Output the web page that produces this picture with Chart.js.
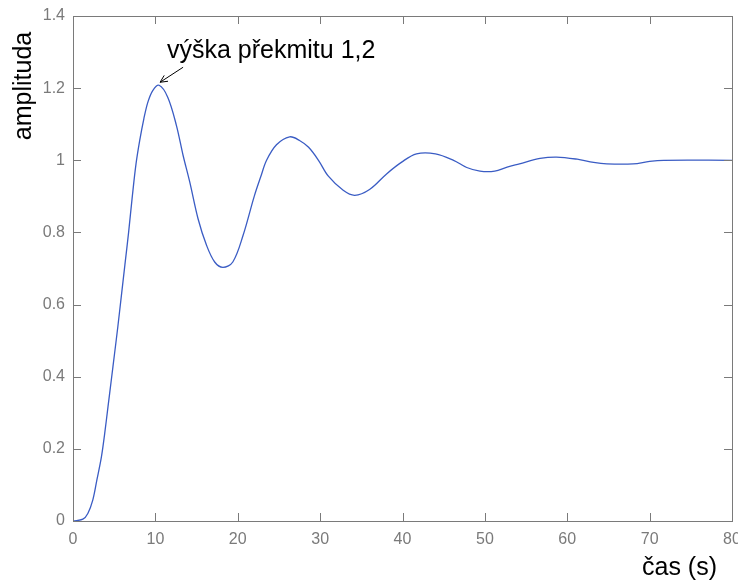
<!DOCTYPE html>
<html>
<head>
<meta charset="utf-8">
<script src="https://cdn.jsdelivr.net/npm/chart.js@4/dist/chart.umd.min.js"></script>
<style>
html,body{margin:0;padding:0;background:#fff;}
#wrap{width:738px;height:583px;position:relative;}
</style>
</head>
<body>
<div id="wrap"><canvas id="c" width="738" height="583"></canvas></div>
<script>
// time (s)
const times = [0, 1.2, 1.8, 2.4, 2.9, 3.45, 3.85, 4.25, 4.65, 5.05, 5.45, 5.85, 6.3, 6.75, 7.2, 7.65, 8.1, 8.6, 9.1, 9.7, 10.45, 11.5, 12.55, 13.36, 14.17, 15.18, 16.2, 17.2, 18.2, 19.4, 20.65, 22.0, 22.8, 23.5, 24.7, 26.3, 27.5, 28.6, 29.8, 31.0, 32.8, 34.2, 36.0, 38.1, 39.9, 41.7, 44.0, 46.2, 47.8, 49.4, 51.2, 52.7, 54.2, 56.7, 58.7, 61.2, 63.2, 64.8, 68.0, 70.0, 71.7, 80];
// amplitude
const amplitude = [0, 0.005, 0.021, 0.058, 0.114, 0.178, 0.243, 0.317, 0.391, 0.465, 0.54, 0.62, 0.71, 0.80, 0.90, 0.99, 1.055, 1.115, 1.162, 1.194, 1.208, 1.175, 1.097, 1.014, 0.94, 0.838, 0.765, 0.718, 0.703, 0.718, 0.792, 0.90, 0.955, 1.0, 1.043, 1.065, 1.055, 1.036, 1.0, 0.956, 0.917, 0.903, 0.919, 0.963, 0.995, 1.018, 1.018, 1.0, 0.980, 0.970, 0.970, 0.981, 0.990, 1.005, 1.009, 1.003, 0.994, 0.990, 0.990, 0.997, 1.0, 1.0];
const xTicks = [0, 10, 20, 30, 40, 50, 60, 70, 80];
const yTicks = [0, 0.2, 0.4, 0.6, 0.8, 1.0, 1.2, 1.4];
const xTitle = 'čas (s)';
const yTitle = 'amplituda';
const annotationText = 'výška překmitu 1,2';
const peak = {x: 10.45, y: 1.208};

const axisColor = '#7a7a7a';
const tickFont = {family: "'Liberation Sans', Arial, sans-serif", size: 16};

const boxPlugin = {
  id: 'boxPlugin',
  afterDraw(chart) {
    const {ctx, chartArea: a, scales: {x, y}} = chart;
    ctx.save();
    ctx.strokeStyle = axisColor;
    ctx.lineWidth = 1;
    ctx.strokeRect(Math.round(a.left) + 0.5, Math.round(a.top) + 0.5, Math.round(a.right - a.left), Math.round(a.bottom - a.top));
    const L = 8;
    ctx.beginPath();
    xTicks.forEach(v => {
      const px = Math.round(x.getPixelForValue(v)) + 0.5;
      ctx.moveTo(px, a.bottom); ctx.lineTo(px, a.bottom - L);
      ctx.moveTo(px, a.top); ctx.lineTo(px, a.top + L);
    });
    yTicks.forEach(v => {
      const py = Math.round(y.getPixelForValue(v)) + 0.5;
      ctx.moveTo(a.left, py); ctx.lineTo(a.left + L, py);
      ctx.moveTo(a.right, py); ctx.lineTo(a.right - L, py);
    });
    ctx.stroke();

    // axis titles
    ctx.fillStyle = '#000';
    ctx.font = "25px 'Liberation Sans', Arial, sans-serif";
    ctx.textAlign = 'right';
    ctx.textBaseline = 'middle';
    ctx.fillText(xTitle, 717, 568);
    ctx.save();
    ctx.translate(24, 86);
    ctx.rotate(-Math.PI / 2);
    ctx.textAlign = 'center';
    ctx.fillText(yTitle, 0, 0);
    ctx.restore();

    // annotation
    const px = x.getPixelForValue(peak.x), py = y.getPixelForValue(peak.y);
    ctx.font = "25px 'Liberation Sans', Arial, sans-serif";
    ctx.textAlign = 'left';
    ctx.textBaseline = 'alphabetic';
    ctx.fillText(annotationText, 167, 58);
    // arrow
    const tx = px + 1, ty = py - 3;
    const sx = tx + 23, sy = ty - 15;
    ctx.strokeStyle = '#000';
    ctx.lineWidth = 1;
    ctx.beginPath();
    ctx.moveTo(sx, sy); ctx.lineTo(tx, ty);
    const ang = Math.atan2(ty - sy, tx - sx);
    const h = 8, w = 0.45;
    ctx.moveTo(tx - h * Math.cos(ang - w), ty - h * Math.sin(ang - w));
    ctx.lineTo(tx, ty);
    ctx.lineTo(tx - h * Math.cos(ang + w), ty - h * Math.sin(ang + w));
    ctx.stroke();
    ctx.restore();
  }
};

new Chart(document.getElementById('c'), {
  type: 'line',
  data: {
    datasets: [{
      data: times.map((t, i) => ({x: t, y: amplitude[i]})),
      borderColor: '#3a5cc4',
      borderWidth: 1.3,
      pointRadius: 0,
      fill: false,
      tension: 0.35
    }]
  },
  options: {
    responsive: false,
    animation: false,
    events: [],
    layout: {padding: {top: 16, right: 6, left: 0, bottom: 0}},
    plugins: {legend: {display: false}, tooltip: {enabled: false}},
    scales: {
      x: {
        type: 'linear', min: 0, max: 80,
        grid: {display: false, drawTicks: false},
        border: {display: false},
        afterBuildTicks: s => { s.ticks = xTicks.map(v => ({value: v})); },
        afterFit: s => { s.height = 62; s.paddingLeft = 0; s.paddingRight = 0; },
        ticks: {color: axisColor, font: tickFont, padding: 9, maxRotation: 0, autoSkip: false, callback: v => String(v)}
      },
      y: {
        type: 'linear', min: 0, max: 1.4,
        grid: {display: false, drawTicks: false},
        border: {display: false},
        afterBuildTicks: s => { s.ticks = yTicks.map(v => ({value: v})); },
        afterFit: s => { s.width = 73; s.paddingTop = 0; s.paddingBottom = 0; },
        ticks: {color: axisColor, font: tickFont, padding: 8, autoSkip: false, callback: v => String(Math.round(v * 10) / 10)}
      }
    }
  },
  plugins: [boxPlugin]
});
</script>
</body>
</html>
